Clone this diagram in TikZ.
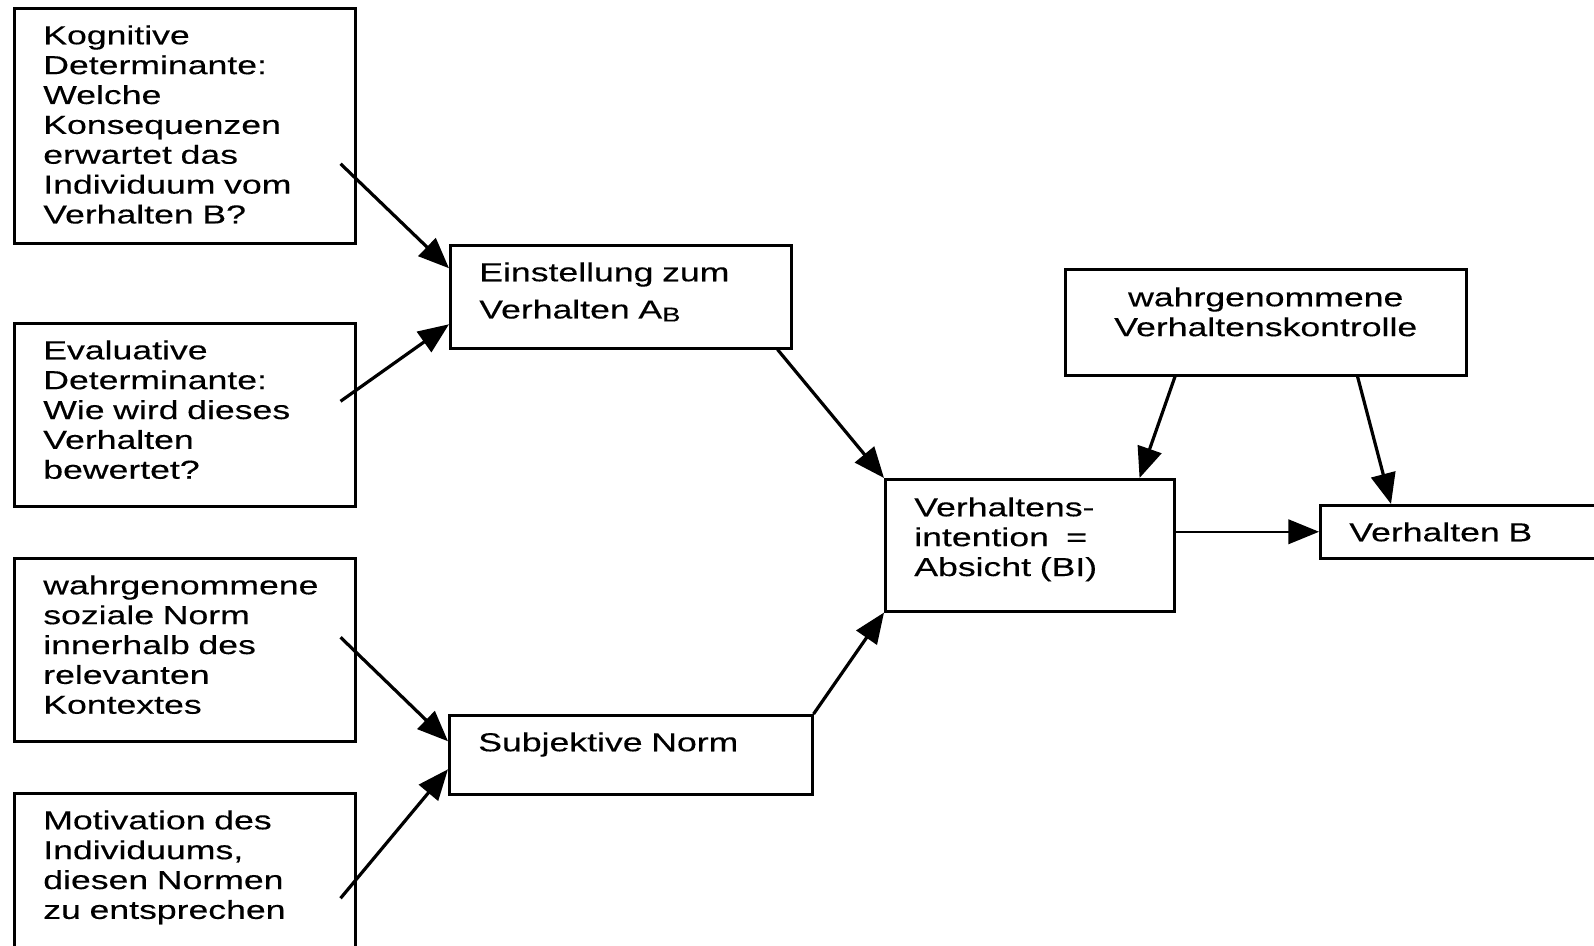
\documentclass[tikz,border=0pt]{standalone}
\usepackage{fontspec}
\setmainfont[FakeStretch=1.37,FakeBold=0.3]{Liberation Sans}
\usepackage{tikz}
\usetikzlibrary{arrows.meta}

\begin{document}
\begin{tikzpicture}[x=0.75pt,y=-0.75pt,>={Triangle[length=23pt,width=18.5pt]},
box/.style={draw,line width=1.9pt,anchor=north west,inner xsep=21.75pt,inner ysep=0pt,align=left,text height=27pt,font=\fontsize{19.5pt}{22.4pt}\selectfont},
pfeil/.style={->,line width=2.4pt}]
\useasboundingbox(0,0)rectangle(1594,945);
\clip(0,0)rectangle(1594,945);
\node[box,text width=212.25pt,text depth=149.25pt](kog)at(13,7){Kognitive\\Determinante:\\Welche\\Konsequenzen\\erwartet das\\Individuum vom\\Verhalten B?};
\node[box,text width=212.25pt,text depth=110.25pt](eva)at(13,322){Evaluative\\Determinante:\\Wie wird dieses\\Verhalten\\bewertet?};
\node[box,text width=212.25pt,text depth=110.25pt](soz)at(13,557){wahrgenommene\\soziale Norm\\innerhalb des\\relevanten\\Kontextes};
\node[box,text width=212.25pt,text depth=123pt](mot)at(13,792){Motivation des\\Individuums,\\diesen Normen\\zu entsprechen};
\node[box,text width=212.25pt,text depth=50.25pt](ein)at(449,244){Einstellung zum\\[5.5pt]Verhalten A\raisebox{-2.25pt}{\fontsize{15pt}{16pt}\selectfont B}};
\node[box,text width=228.75pt,text depth=32.25pt](sub)at(448,714){Subjektive Norm};
\node[box,text width=173.25pt,text height=27.75pt,text depth=71.25pt](vi)at(884,478){Verhaltens-\\intention\ \ =\\Absicht (BI)};
\node[box,align=center,text width=257.25pt,text height=27.75pt,text depth=51.75pt](pbc)at(1064,268){wahrgenommene\\Verhaltenskontrolle};
\node[box,text width=204pt,text depth=12.75pt](vb)at(1319,504){Verhalten B};
\coordinate(k1)at([shift={(-16,38)}]kog.east);
\coordinate(e1)at([shift={(-16,-13.5)}]eva.east);
\coordinate(s1)at([shift={(-16,-12.5)}]soz.east);
\coordinate(m1)at([shift={(-16,5)}]mot.east);
\draw[pfeil](k1)--([shift={(0,-28.5)}]ein.west);
\draw[pfeil](e1)--([shift={(0,27.5)}]ein.west);
\draw[pfeil](s1)--([shift={(0,-13.5)}]sub.west);
\draw[pfeil](m1)--([shift={(0,14.5)}]sub.west);
\draw[pfeil]([shift={(-15,0)}]ein.south east)--(vi.north west);
\draw[pfeil](sub.north east)--(vi.south west);
\draw[pfeil]([shift={(111,0)}]pbc.south west)--([shift={(-36,0)}]vi.north east);
\draw[pfeil]([shift={(-110,0)}]pbc.south east)--([shift={(72,0)}]vb.north west);
\draw[->,line width=1.3pt](vi.east|-vb.west)--(vb.west);
\end{tikzpicture}
\end{document}
